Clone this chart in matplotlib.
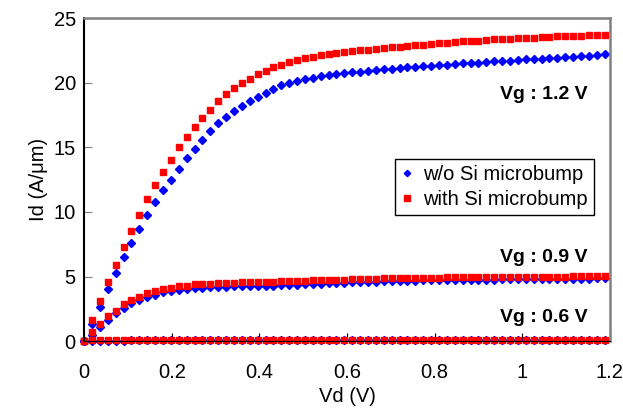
import numpy as np
import matplotlib
matplotlib.use("Agg")
import matplotlib.pyplot as plt

plt.rcParams['font.family'] = ['Liberation Sans', 'DejaVu Sans']

# drain voltage sweep (67 points, step 0.018 V)
vd = np.round(np.arange(67) * 0.018, 3)

# Vg = 1.2 V
id12_wo = [0, 1.3, 2.65, 4.0, 5.3, 6.5, 7.6, 8.65, 9.8, 10.8, 11.7, 12.5, 13.3, 14.2, 14.9,
           15.6, 16.3, 16.85, 17.35, 17.8, 18.2, 18.6, 18.9, 19.2, 19.5, 19.8, 20.0, 20.1,
           20.25, 20.4, 20.55, 20.6, 20.7, 20.75, 20.8, 20.85, 20.9, 20.95, 21.05, 21.1, 21.15,
           21.2, 21.25, 21.3, 21.3, 21.35, 21.4, 21.45, 21.5, 21.5, 21.55, 21.6, 21.65, 21.7,
           21.7, 21.75, 21.8, 21.85, 21.85, 21.9, 21.95, 22.0, 22.0, 22.05, 22.1, 22.15, 22.2]
id12_w = [0, 1.6, 3.1, 4.6, 5.9, 7.3, 8.5, 9.8, 11.0, 12.1, 13.1, 14.0, 15.0, 15.8, 16.6,
          17.3, 17.9, 18.6, 19.1, 19.6, 20.0, 20.3, 20.7, 20.9, 21.2, 21.4, 21.6, 21.75, 21.9,
          22.0, 22.15, 22.25, 22.3, 22.4, 22.45, 22.5, 22.55, 22.6, 22.7, 22.75, 22.8,
          22.85, 22.9, 22.95, 23.0, 23.05, 23.1, 23.15, 23.2, 23.2, 23.25, 23.3, 23.35, 23.4,
          23.4, 23.45, 23.5, 23.5, 23.55, 23.55, 23.6, 23.6, 23.65, 23.65, 23.7, 23.7, 23.7]

# Vg = 0.9 V
id09_wo = [0, 0.5, 1.1, 1.63, 2.14, 2.6, 2.96, 3.2, 3.43, 3.56, 3.77, 3.87, 3.95, 4.02, 4.1,
           4.15, 4.2, 4.2, 4.2, 4.26, 4.26, 4.3, 4.3, 4.3, 4.3, 4.33,
           4.35, 4.37, 4.4, 4.42, 4.45, 4.47, 4.5, 4.52, 4.55, 4.57, 4.6, 4.6, 4.62, 4.65, 4.65,
           4.67, 4.68, 4.7, 4.7, 4.72, 4.72, 4.73, 4.75, 4.75, 4.75, 4.76, 4.77, 4.78, 4.78,
           4.79, 4.8, 4.8, 4.8, 4.81, 4.82, 4.82, 4.83, 4.83, 4.84, 4.85, 4.85]
id09_w = [0, 0.7, 1.3, 1.96, 2.35, 2.86, 3.17, 3.43, 3.69, 3.87, 4.02, 4.13, 4.26, 4.28, 4.39,
          4.46, 4.46, 4.5, 4.5, 4.53, 4.56, 4.6, 4.6, 4.6, 4.6, 4.64,
          4.65, 4.65, 4.65, 4.7, 4.7, 4.72, 4.75, 4.75, 4.78, 4.8, 4.8, 4.82, 4.85, 4.85, 4.88,
          4.9, 4.9, 4.9, 4.92, 4.92, 4.93, 4.95, 4.95, 4.95, 4.95, 4.96, 4.97, 4.97, 4.98,
          4.98, 4.98, 5.0, 5.0, 5.0, 5.0, 5.0, 5.02, 5.02, 5.02, 5.03, 5.03]

# Vg = 0.6 V
id06_wo = [0, 0.02, 0.03, 0.04, 0.04, 0.04, 0.05, 0.05, 0.05, 0.05, 0.05, 0.05, 0.05, 0.05,
           0.05, 0.05, 0.05, 0.05, 0.05, 0.05, 0.05, 0.05, 0.05, 0.05, 0.05, 0.05, 0.05, 0.05,
           0.05, 0.05, 0.05, 0.05, 0.05, 0.05, 0.05, 0.05, 0.05, 0.05, 0.05, 0.05, 0.05, 0.05,
           0.05, 0.05, 0.05, 0.05, 0.05, 0.05, 0.05, 0.05, 0.05, 0.05, 0.05, 0.05, 0.05, 0.05,
           0.05, 0.05, 0.05, 0.05, 0.05, 0.05, 0.05, 0.05, 0.05, 0.05, 0.05]
id06_w = [0, 0.05, 0.07, 0.08, 0.09, 0.09, 0.1, 0.1, 0.1, 0.1, 0.1, 0.1, 0.1, 0.1, 0.1, 0.1,
          0.1, 0.1, 0.1, 0.1, 0.1, 0.1, 0.1, 0.1, 0.1, 0.1, 0.1, 0.1, 0.1, 0.1, 0.1, 0.1, 0.1,
          0.1, 0.1, 0.1, 0.1, 0.1, 0.1, 0.1, 0.1, 0.1, 0.1, 0.1, 0.1, 0.1, 0.1, 0.1, 0.1, 0.1,
          0.1, 0.1, 0.1, 0.1, 0.1, 0.1, 0.1, 0.1, 0.1, 0.1, 0.1, 0.1, 0.1, 0.1, 0.1, 0.1, 0.1]

vg_labels = ["Vg : 1.2 V", "Vg : 0.9 V", "Vg : 0.6 V"]
vg_label_y = [19.1, 6.45, 1.85]

fig = plt.figure(figsize=(6.23, 4.12), dpi=100)
ax = fig.add_axes([0.135, 0.172, 0.844, 0.784])

blue_kw = dict(ls="none", marker="D", ms=4.3, color="#0000FF", mec="#0000FF", clip_on=False)
red_kw = dict(ls="none", marker="s", ms=5, color="#FF0000", mec="#FF0000", clip_on=False)

for i, (wo, w) in enumerate([(id12_wo, id12_w), (id09_wo, id09_w), (id06_wo, id06_w)]):
    ax.plot(vd, wo, label="w/o Si microbump" if i == 0 else None, **blue_kw)
    ax.plot(vd, w, label="with Si microbump" if i == 0 else None, **red_kw)

for txt, yv in zip(vg_labels, vg_label_y):
    ax.text(1.148, yv, txt, ha="right", va="center", fontsize=14, fontweight="bold")

ax.set_xlim(0, 1.2)
ax.set_ylim(0, 25)
ax.set_xticks([0, 0.2, 0.4, 0.6, 0.8, 1, 1.2])
ax.set_xticklabels(["0", "0.2", "0.4", "0.6", "0.8", "1", "1.2"])
ax.set_yticks([0, 5, 10, 15, 20, 25])
ax.tick_params(direction="in", length=6, labelsize=14.5, colors="black")
ax.tick_params(axis="y", color="#808080", pad=6)
ax.tick_params(axis="x", pad=16)

ax.set_xlabel("Vd (V)", fontsize=14.5, labelpad=3)
ax.set_ylabel("Id (A/μm)", fontsize=14.5, labelpad=4)

for s in ["top", "right"]:
    ax.spines[s].set_color("#808080")
    ax.spines[s].set_linewidth(1.8)
ax.spines["left"].set_color("black")
ax.spines["bottom"].set_color("black")
ax.spines["left"].set_linewidth(1.5)

leg = ax.legend(loc="upper left", bbox_to_anchor=(0.591, 0.563), fontsize=14.5,
                fancybox=False, edgecolor="black", framealpha=1, handlelength=0.6,
                handletextpad=0.5, borderpad=0.3, labelspacing=0.3, markerscale=0.75,
                borderaxespad=0)
leg.get_frame().set_linewidth(1.0)

plt.savefig("out.png", dpi=100)
